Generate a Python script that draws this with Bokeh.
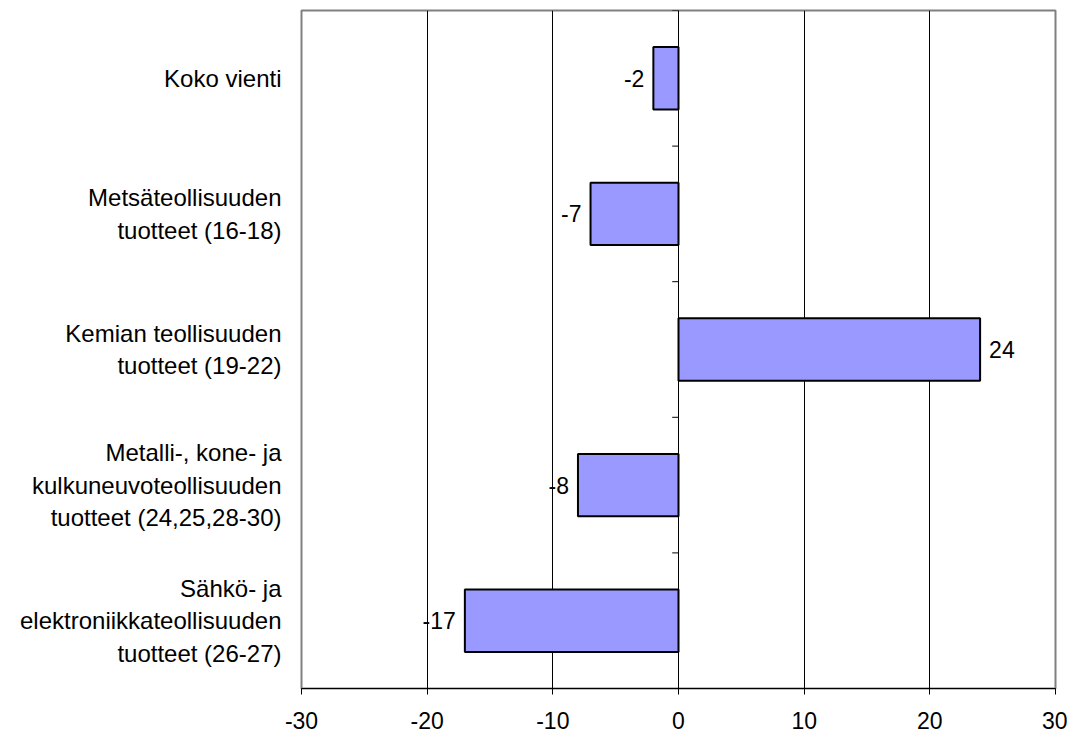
from bokeh.plotting import figure
from bokeh.models import ColumnDataSource, Range1d, FixedTicker
from bokeh.core.properties import value
from bokeh.embed import file_html
from bokeh.resources import INLINE

categories = [
    "Koko vienti",
    "Metsäteollisuuden\ntuotteet (16-18)",
    "Kemian teollisuuden\ntuotteet (19-22)",
    "Metalli-, kone- ja\nkulkuneuvoteollisuuden\ntuotteet (24,25,28-30)",
    "Sähkö- ja\nelektroniikkateollisuuden\ntuotteet (26-27)",
]
values = [-2, -7, 24, -8, -17]
x_ticks = [-30, -20, -10, 0, 10, 20, 30]

FONT = "Liberation Sans"

n = len(categories)
pos = list(range(n))

p = figure(
    output_backend="svg", toolbar_location=None,
    frame_width=754, frame_height=678,
    min_border_left=301, min_border_top=10, min_border_right=12, min_border_bottom=48,
    x_range=Range1d(x_ticks[0], x_ticks[-1]),
    y_range=Range1d(n - 0.5, -0.5),
    background_fill_color="white", border_fill_color="white",
)
p.outline_line_color = "#808080"
p.outline_line_width = 2

# bottom axis
p.xaxis.ticker = FixedTicker(ticks=x_ticks)
p.xaxis.major_label_overrides = {t: str(t) for t in x_ticks}
p.xaxis.axis_line_color = "#000000"
p.xaxis.axis_line_width = 1
p.xaxis.major_tick_line_color = "#000000"
p.xaxis.major_tick_out = 6
p.xaxis.major_tick_in = 0
p.xaxis.minor_tick_line_color = None
p.xaxis.major_label_text_font = FONT
p.xaxis.major_label_text_font_size = "23px"
p.xaxis.major_label_text_color = "#000000"
p.xaxis.major_label_standoff = 17

# left category axis
p.yaxis.ticker = FixedTicker(ticks=pos)
p.yaxis.major_label_overrides = {i: c for i, c in zip(pos, categories)}
p.yaxis.axis_line_color = None
p.yaxis.major_tick_line_color = None
p.yaxis.major_tick_out = 0
p.yaxis.major_tick_in = 0
p.yaxis.minor_tick_line_color = None
p.yaxis.major_label_text_font = FONT
p.yaxis.major_label_text_font_size = "24px"
p.yaxis.major_label_text_color = "#000000"
p.yaxis.major_label_standoff = 20

p.xgrid.ticker = FixedTicker(ticks=[t for t in x_ticks if t not in (x_ticks[0], x_ticks[-1])])
p.xgrid.grid_line_color = "#000000"
p.xgrid.grid_line_width = 1
p.ygrid.grid_line_color = None

src = ColumnDataSource(dict(
    y=pos, v=values, cat=categories,
    label=[str(v) for v in values],
    align=["right" if v < 0 else "left" for v in values],
    off=[-9 if v < 0 else 9 for v in values],
))

p.hbar(y="y", left=0, right="v", height=0.46, source=src,
       fill_color="#9999FF", line_color="#000000", line_width=2)

# zero line with category boundary ticks
p.segment(x0=0, x1=0, y0=-0.5, y1=n - 0.5, line_color="#000000", line_width=1)
bounds = [i - 0.5 for i in range(n + 1)]
p.segment(x0=[-0.5] * len(bounds), x1=[0] * len(bounds), y0=bounds, y1=bounds,
          line_color="#000000", line_width=1)

p.text(x="v", y="y", text="label", source=src, x_offset="off",
       text_align="align", text_baseline="middle",
       text_font=value(FONT), text_font_size="23px", text_color="#000000")

open("out.html", "w").write(file_html(p, INLINE))
